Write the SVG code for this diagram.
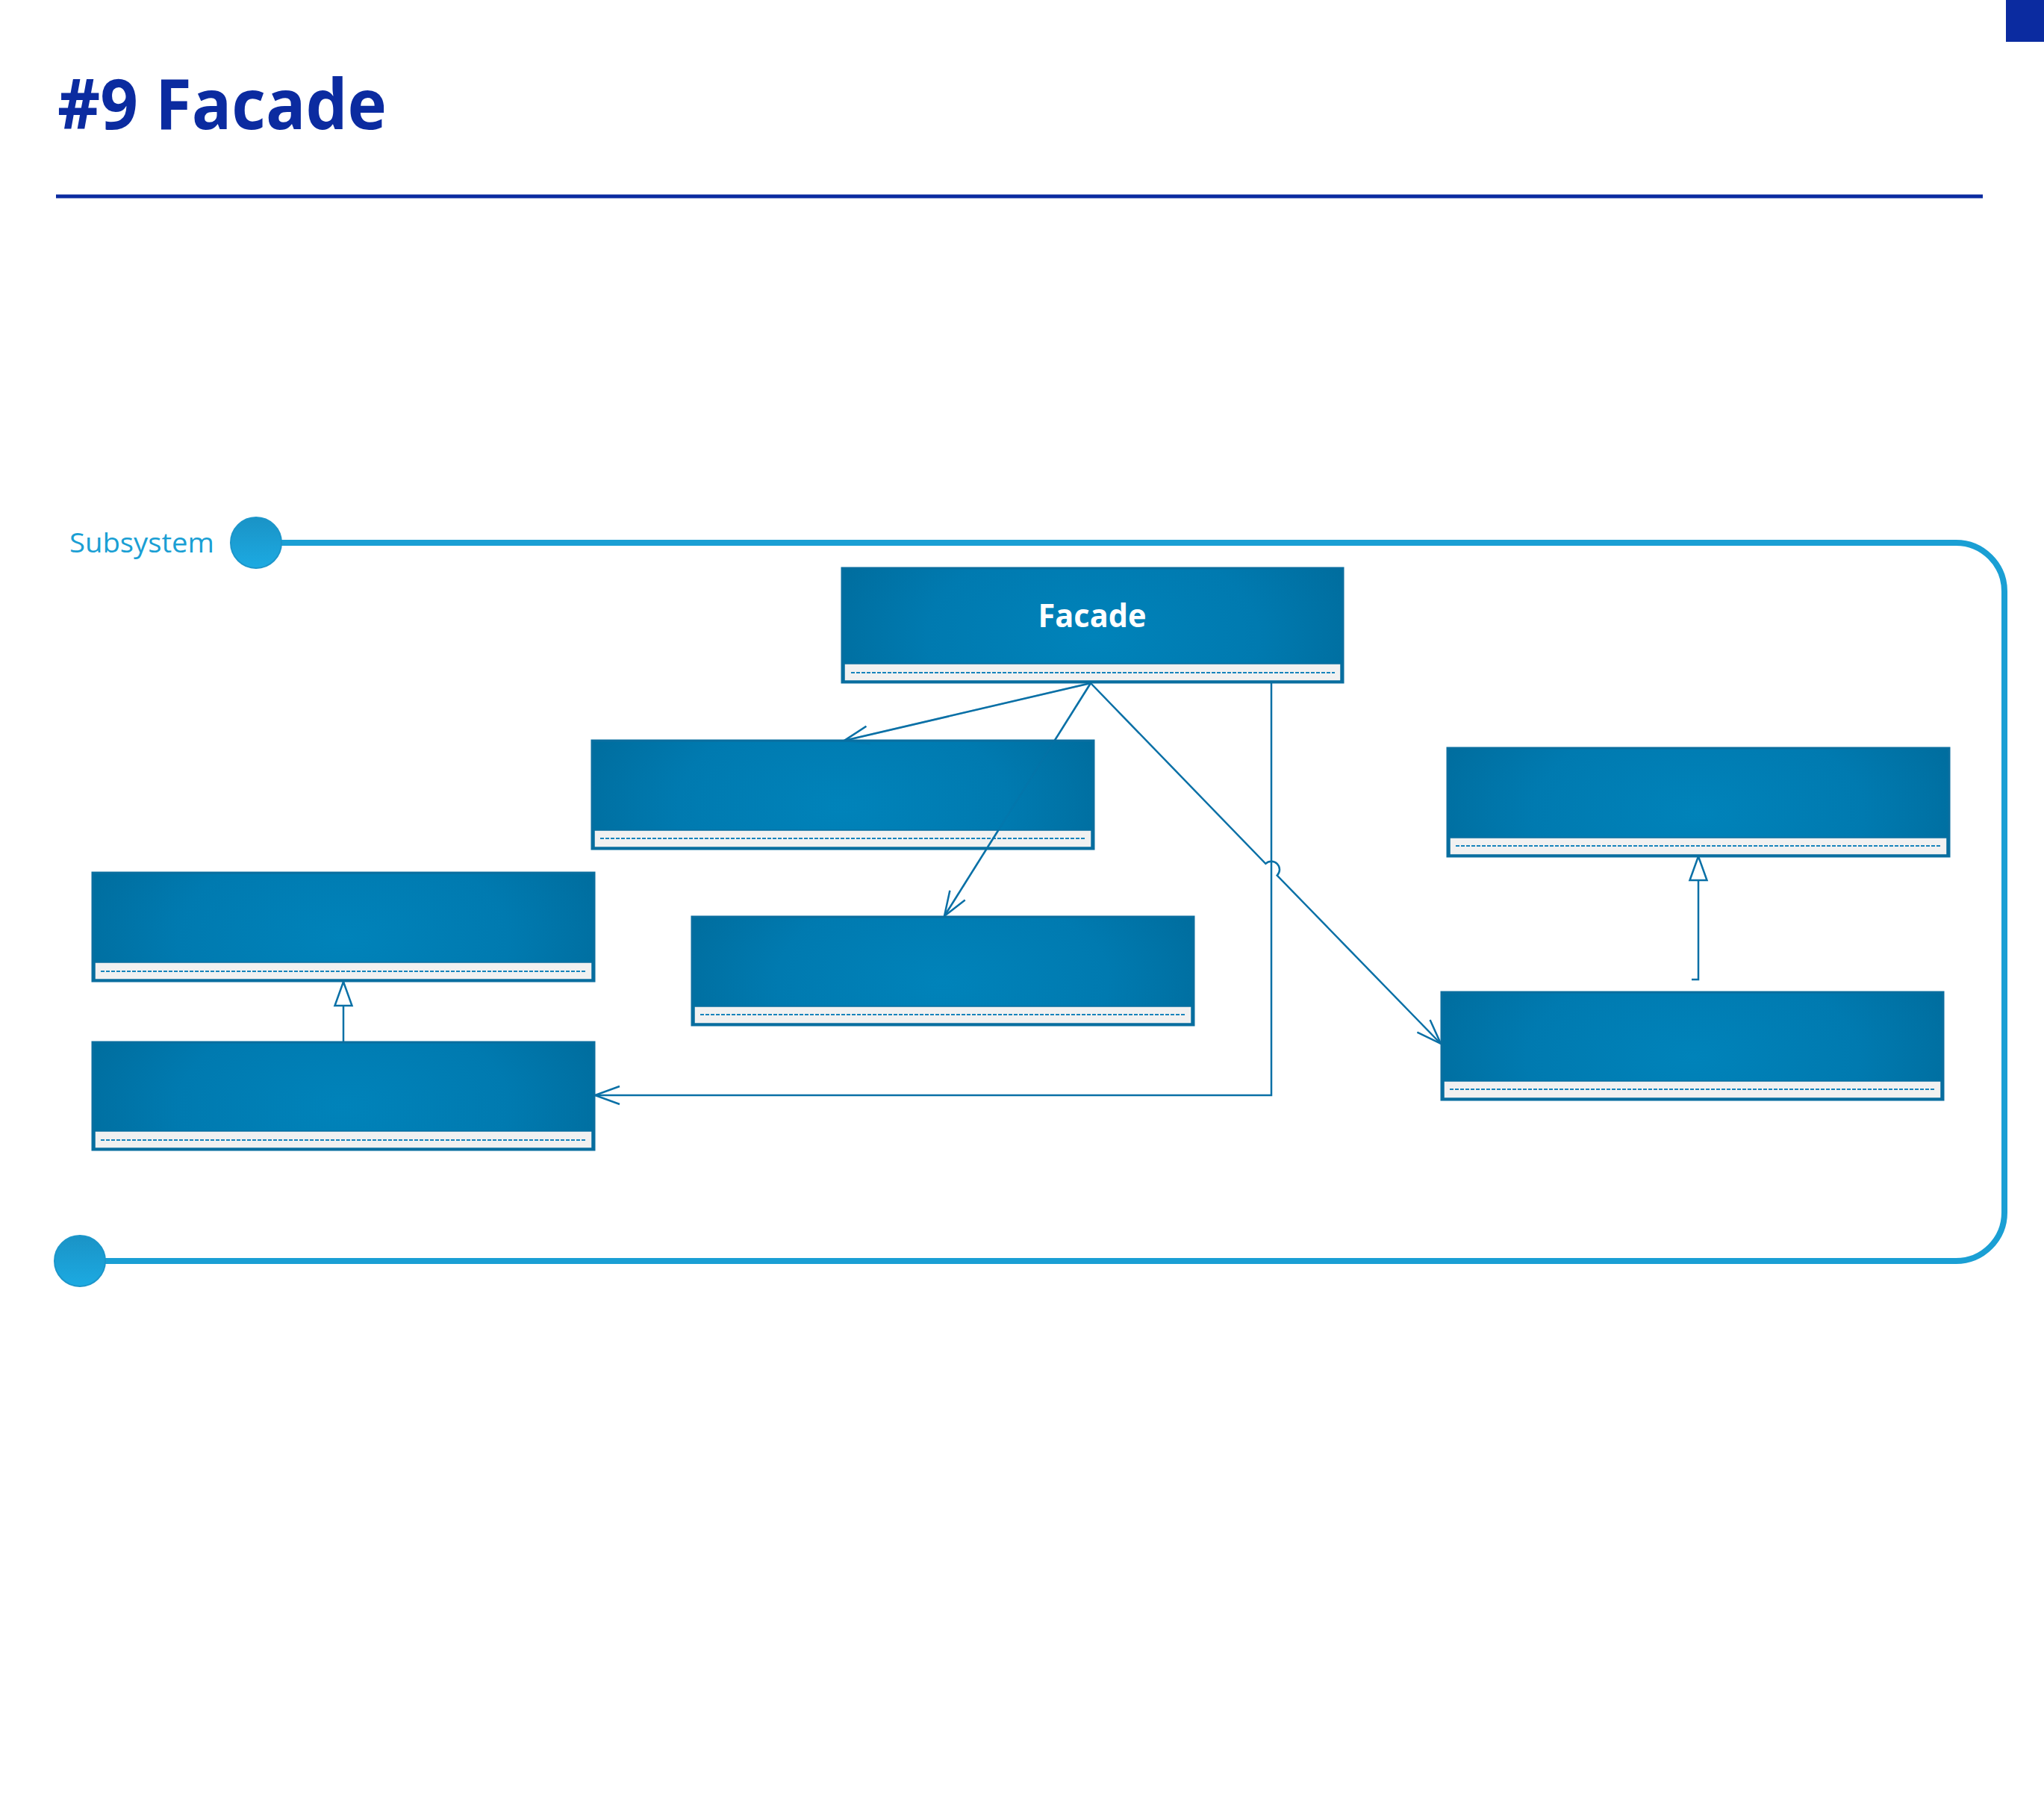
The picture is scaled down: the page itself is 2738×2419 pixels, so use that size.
<svg xmlns="http://www.w3.org/2000/svg" width="2738" height="2419" viewBox="0 0 2738 2419">
  <defs>
    <radialGradient id="hdr" cx="0.5" cy="0.6" r="0.55" gradientTransform="translate(0.5,0.6) scale(1,2.6) translate(-0.5,-0.6)">
      <stop offset="0" stop-color="#0083ba"/>
      <stop offset="0.6" stop-color="#007ab0"/>
      <stop offset="1" stop-color="#006d9e"/>
    </radialGradient>
    <linearGradient id="dot" x1="0" y1="0" x2="0" y2="1">
      <stop offset="0" stop-color="#1a93c6"/>
      <stop offset="1" stop-color="#1caae2"/>
    </linearGradient>
    <marker id="open" markerUnits="userSpaceOnUse" markerWidth="40" markerHeight="30" refX="0" refY="0" orient="auto" overflow="visible">
      <path d="M-33,-12 L0,0 L-33,12" fill="none" stroke="#0a70a6" stroke-width="2.5"/>
    </marker>
    <marker id="gen" markerUnits="userSpaceOnUse" markerWidth="40" markerHeight="30" refX="0" refY="0" orient="auto" overflow="visible">
      <path d="M0,0 L-32,-11.5 L-32,11.5 Z" fill="#ffffff" stroke="#0a70a6" stroke-width="2.5"/>
    </marker>
  </defs>
  <style>
    .title { font-family: "Open Sans", "Liberation Sans", sans-serif; font-weight: 700; fill: #0b2ba0; }
    .sub { font-family: "Open Sans", "Liberation Sans", sans-serif; fill: #1a9fd4; }
    .cls { fill: url(#hdr); stroke: #0a6e9f; stroke-width: 3; }
    .comp { fill: #f1f1f1; stroke: #0a6e9f; stroke-width: 1.5; }
    .dash { stroke: #1784bc; stroke-width: 2; stroke-dasharray: 5 2; }
    .name { font-family: "Open Sans", "Liberation Sans", sans-serif; font-weight: 700; fill: #ffffff; text-anchor: middle; }
    .conn { fill: none; stroke: #0a70a6; stroke-width: 2.5; }
    .frame { fill: none; stroke: #1a9fd4; stroke-width: 8; }
    .knob { fill: url(#dot); stroke: #1c96ca; stroke-width: 2; }
  </style>

  <rect width="2738" height="2419" fill="#ffffff"/>

  <!-- page header -->
  <rect x="2687" y="0" width="51" height="56" fill="#0b2ba0"/>
  <text class="title" x="77" y="173" font-size="94" textLength="441" lengthAdjust="spacingAndGlyphs">#9 Facade</text>
  <line x1="75" y1="263" x2="2656" y2="263" stroke="#0b2ba0" stroke-width="5"/>

  <!-- subsystem boundary -->
  <g id="subsystem">
    <path class="frame" d="M343,727 H2620 A65,65 0 0 1 2685,792 V1624 A65,65 0 0 1 2620,1689 H107"/>
    <circle class="knob" cx="343" cy="727" r="34"/>
    <circle class="knob" cx="107" cy="1689" r="34"/>
    <text class="sub" x="93" y="740" font-size="37" textLength="194" lengthAdjust="spacingAndGlyphs">Subsystem</text>
  </g>

  <!-- connectors -->
  <g id="connectors">
    <path class="conn" d="M1461,915 L1131,992" marker-end="url(#open)"/>
    <path class="conn" d="M1461,915 L1265,1227" marker-end="url(#open)"/>
    <path class="conn" d="M1461,915 L1695.3,1156.8 A11,11 0 0 1 1710.7,1172.6 L1930,1398" marker-end="url(#open)"/>
    <path class="conn" d="M1703,914 V1467 H797" marker-end="url(#open)"/>
    <path class="conn" d="M460,1396 V1315" marker-end="url(#gen)"/>
    <path class="conn" d="M2266,1312 H2275 V1147" marker-end="url(#gen)"/>
  </g>

  <!-- classes -->
  <g id="facade">
    <rect class="cls" x="1128" y="761" width="671" height="153"/>
    <rect class="comp" x="1131" y="889" width="665" height="23"/>
    <line class="dash" x1="1140" y1="901" x2="1788" y2="901"/>
    <text class="name" x="1463" y="840" font-size="43" textLength="145" lengthAdjust="spacingAndGlyphs">Facade</text>
  </g>
  <g id="class-a">
    <rect class="cls" x="793" y="992" width="672" height="145"/>
    <rect class="comp" x="796" y="1112" width="666" height="23"/>
    <line class="dash" x1="804" y1="1123" x2="1454" y2="1123"/>
  </g>
  <g id="class-b">
    <rect class="cls" x="927" y="1228" width="672" height="145"/>
    <rect class="comp" x="930" y="1348" width="666" height="23"/>
    <line class="dash" x1="938" y1="1359" x2="1588" y2="1359"/>
  </g>
  <g id="class-c">
    <rect class="cls" x="124" y="1169" width="672" height="145"/>
    <rect class="comp" x="127" y="1289" width="666" height="23"/>
    <line class="dash" x1="135" y1="1301" x2="785" y2="1301"/>
  </g>
  <g id="class-d">
    <rect class="cls" x="124" y="1396" width="672" height="144"/>
    <rect class="comp" x="127" y="1515" width="666" height="23"/>
    <line class="dash" x1="135" y1="1527" x2="785" y2="1527"/>
  </g>
  <g id="class-e">
    <rect class="cls" x="1939" y="1002" width="672" height="145"/>
    <rect class="comp" x="1942" y="1122" width="666" height="23"/>
    <line class="dash" x1="1950" y1="1133" x2="2600" y2="1133"/>
  </g>
  <g id="class-f">
    <rect class="cls" x="1931" y="1329" width="672" height="144"/>
    <rect class="comp" x="1934" y="1448" width="666" height="23"/>
    <line class="dash" x1="1942" y1="1459" x2="2592" y2="1459"/>
  </g>

  <!-- connector lines that show through class boxes -->
  <g id="connector-overlay">
    <path class="conn" d="M1461,915 L1131,992" marker-end="url(#open)" opacity="0.35"/>
    <path class="conn" d="M1461,915 L1265,1227" opacity="0.3"/>
    <path class="conn" d="M1337.3,1112 L1322.8,1135"/>
  </g>
</svg>
